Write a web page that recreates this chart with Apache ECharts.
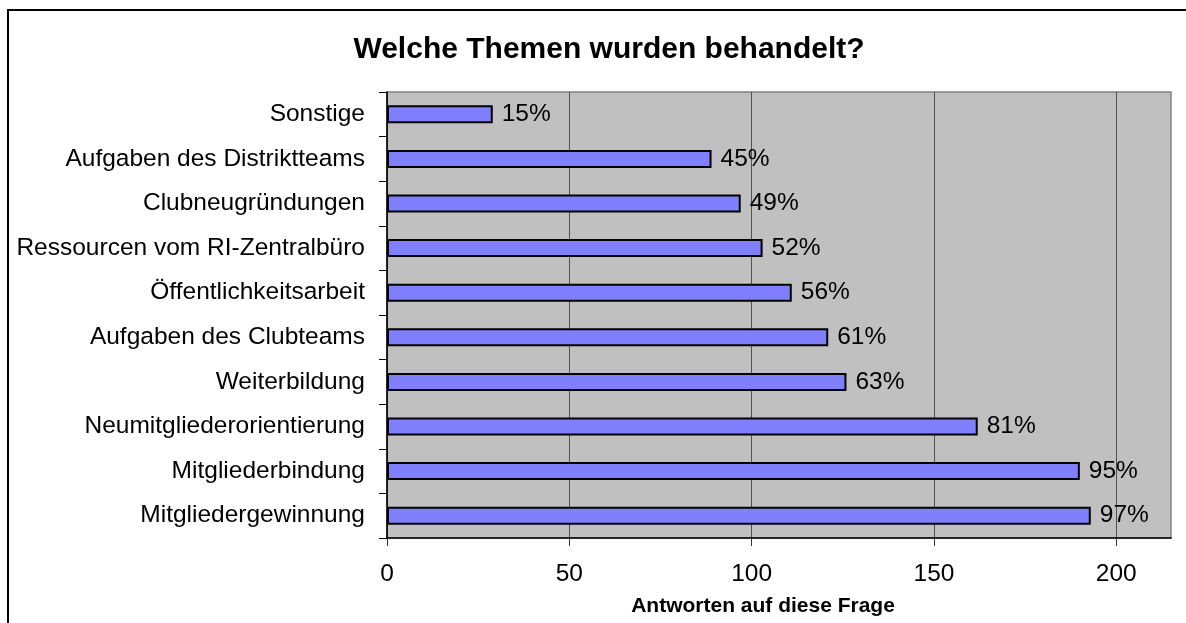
<!DOCTYPE html>
<html>
<head>
<meta charset="utf-8">
<title>Welche Themen wurden behandelt?</title>
<script src="https://cdn.jsdelivr.net/npm/echarts@6/dist/echarts.min.js"></script>
<style>
  html, body { margin: 0; padding: 0; background: #fff; }
  #chart { width: 1186px; height: 623px; }
</style>
</head>
<body>
<div id="chart"></div>
<script>
// data, top to bottom
const categories = [
    'Sonstige',
    'Aufgaben des Distriktteams',
    'Clubneugründungen',
    'Ressourcen vom RI-Zentralbüro',
    'Öffentlichkeitsarbeit',
    'Aufgaben des Clubteams',
    'Weiterbildung',
    'Neumitgliederorientierung',
    'Mitgliederbindung',
    'Mitgliedergewinnung'
];
const answers = [29, 89, 97, 103, 111, 121, 126, 162, 190, 193];
const percents = [15, 45, 49, 52, 56, 61, 63, 81, 95, 97];
const xTicks = [0, 50, 100, 150, 200];

const FONT = '"Liberation Sans", Arial, sans-serif';

const chart = echarts.init(document.getElementById('chart'));

chart.setOption({
    backgroundColor: '#fff',
    animation: false,
    title: {
        text: 'Welche Themen wurden behandelt?',
        left: 609,
        textAlign: 'center',
        top: 35,
        padding: 0,
        textStyle: {
            fontFamily: FONT,
            fontSize: 30,
            fontWeight: 'bold',
            color: '#000'
        }
    },
    graphic: [{
        type: 'rect',
        shape: { x: 8, y: 10, width: 1400, height: 900 },
        style: { fill: 'none', stroke: '#000', lineWidth: 2 },
        silent: true
    }],
    grid: {
        left: 387,
        right: 15,
        top: 92,
        bottom: 85,
        show: true,
        backgroundColor: '#C0C0C0',
        borderColor: '#808080',
        borderWidth: 1.5
    },
    xAxis: {
        type: 'value',
        min: 0,
        max: 215,
        interval: 50,
        name: 'Antworten auf diese Frage',
        nameLocation: 'middle',
        nameGap: 58,
        nameTextStyle: {
            fontFamily: FONT,
            fontSize: 21,
            fontWeight: 'bold',
            color: '#000',
            padding: [0, 32, 0, 0]
        },
        axisLine: { show: true, lineStyle: { color: '#000', width: 1.5 } },
        axisTick: { show: true, length: 8, customValues: xTicks, lineStyle: { color: '#333' } },
        axisLabel: {
            customValues: xTicks,
            margin: 24,
            fontFamily: FONT,
            fontSize: 24.5,
            color: '#000'
        },
        splitLine: { show: true, lineStyle: { color: '#505050', width: 1 } }
    },
    yAxis: {
        type: 'category',
        data: categories,
        inverse: true,
        axisLine: { show: true, lineStyle: { color: '#000', width: 1.5 } },
        axisTick: { show: true, length: 8, lineStyle: { color: '#000' } },
        axisLabel: {
            margin: 22,
            fontFamily: FONT,
            fontSize: 24.5,
            color: '#000'
        },
        splitLine: { show: false }
    },
    series: [{
        type: 'bar',
        data: answers,
        barWidth: 18,
        itemStyle: {
            color: '#8080FF',
            borderColor: '#000',
            borderWidth: 2
        },
        label: {
            show: true,
            position: 'right',
            distance: 9,
            fontFamily: FONT,
            fontSize: 24.5,
            color: '#000',
            formatter: p => percents[p.dataIndex] + '%'
        }
    }]
});
</script>
</body>
</html>
